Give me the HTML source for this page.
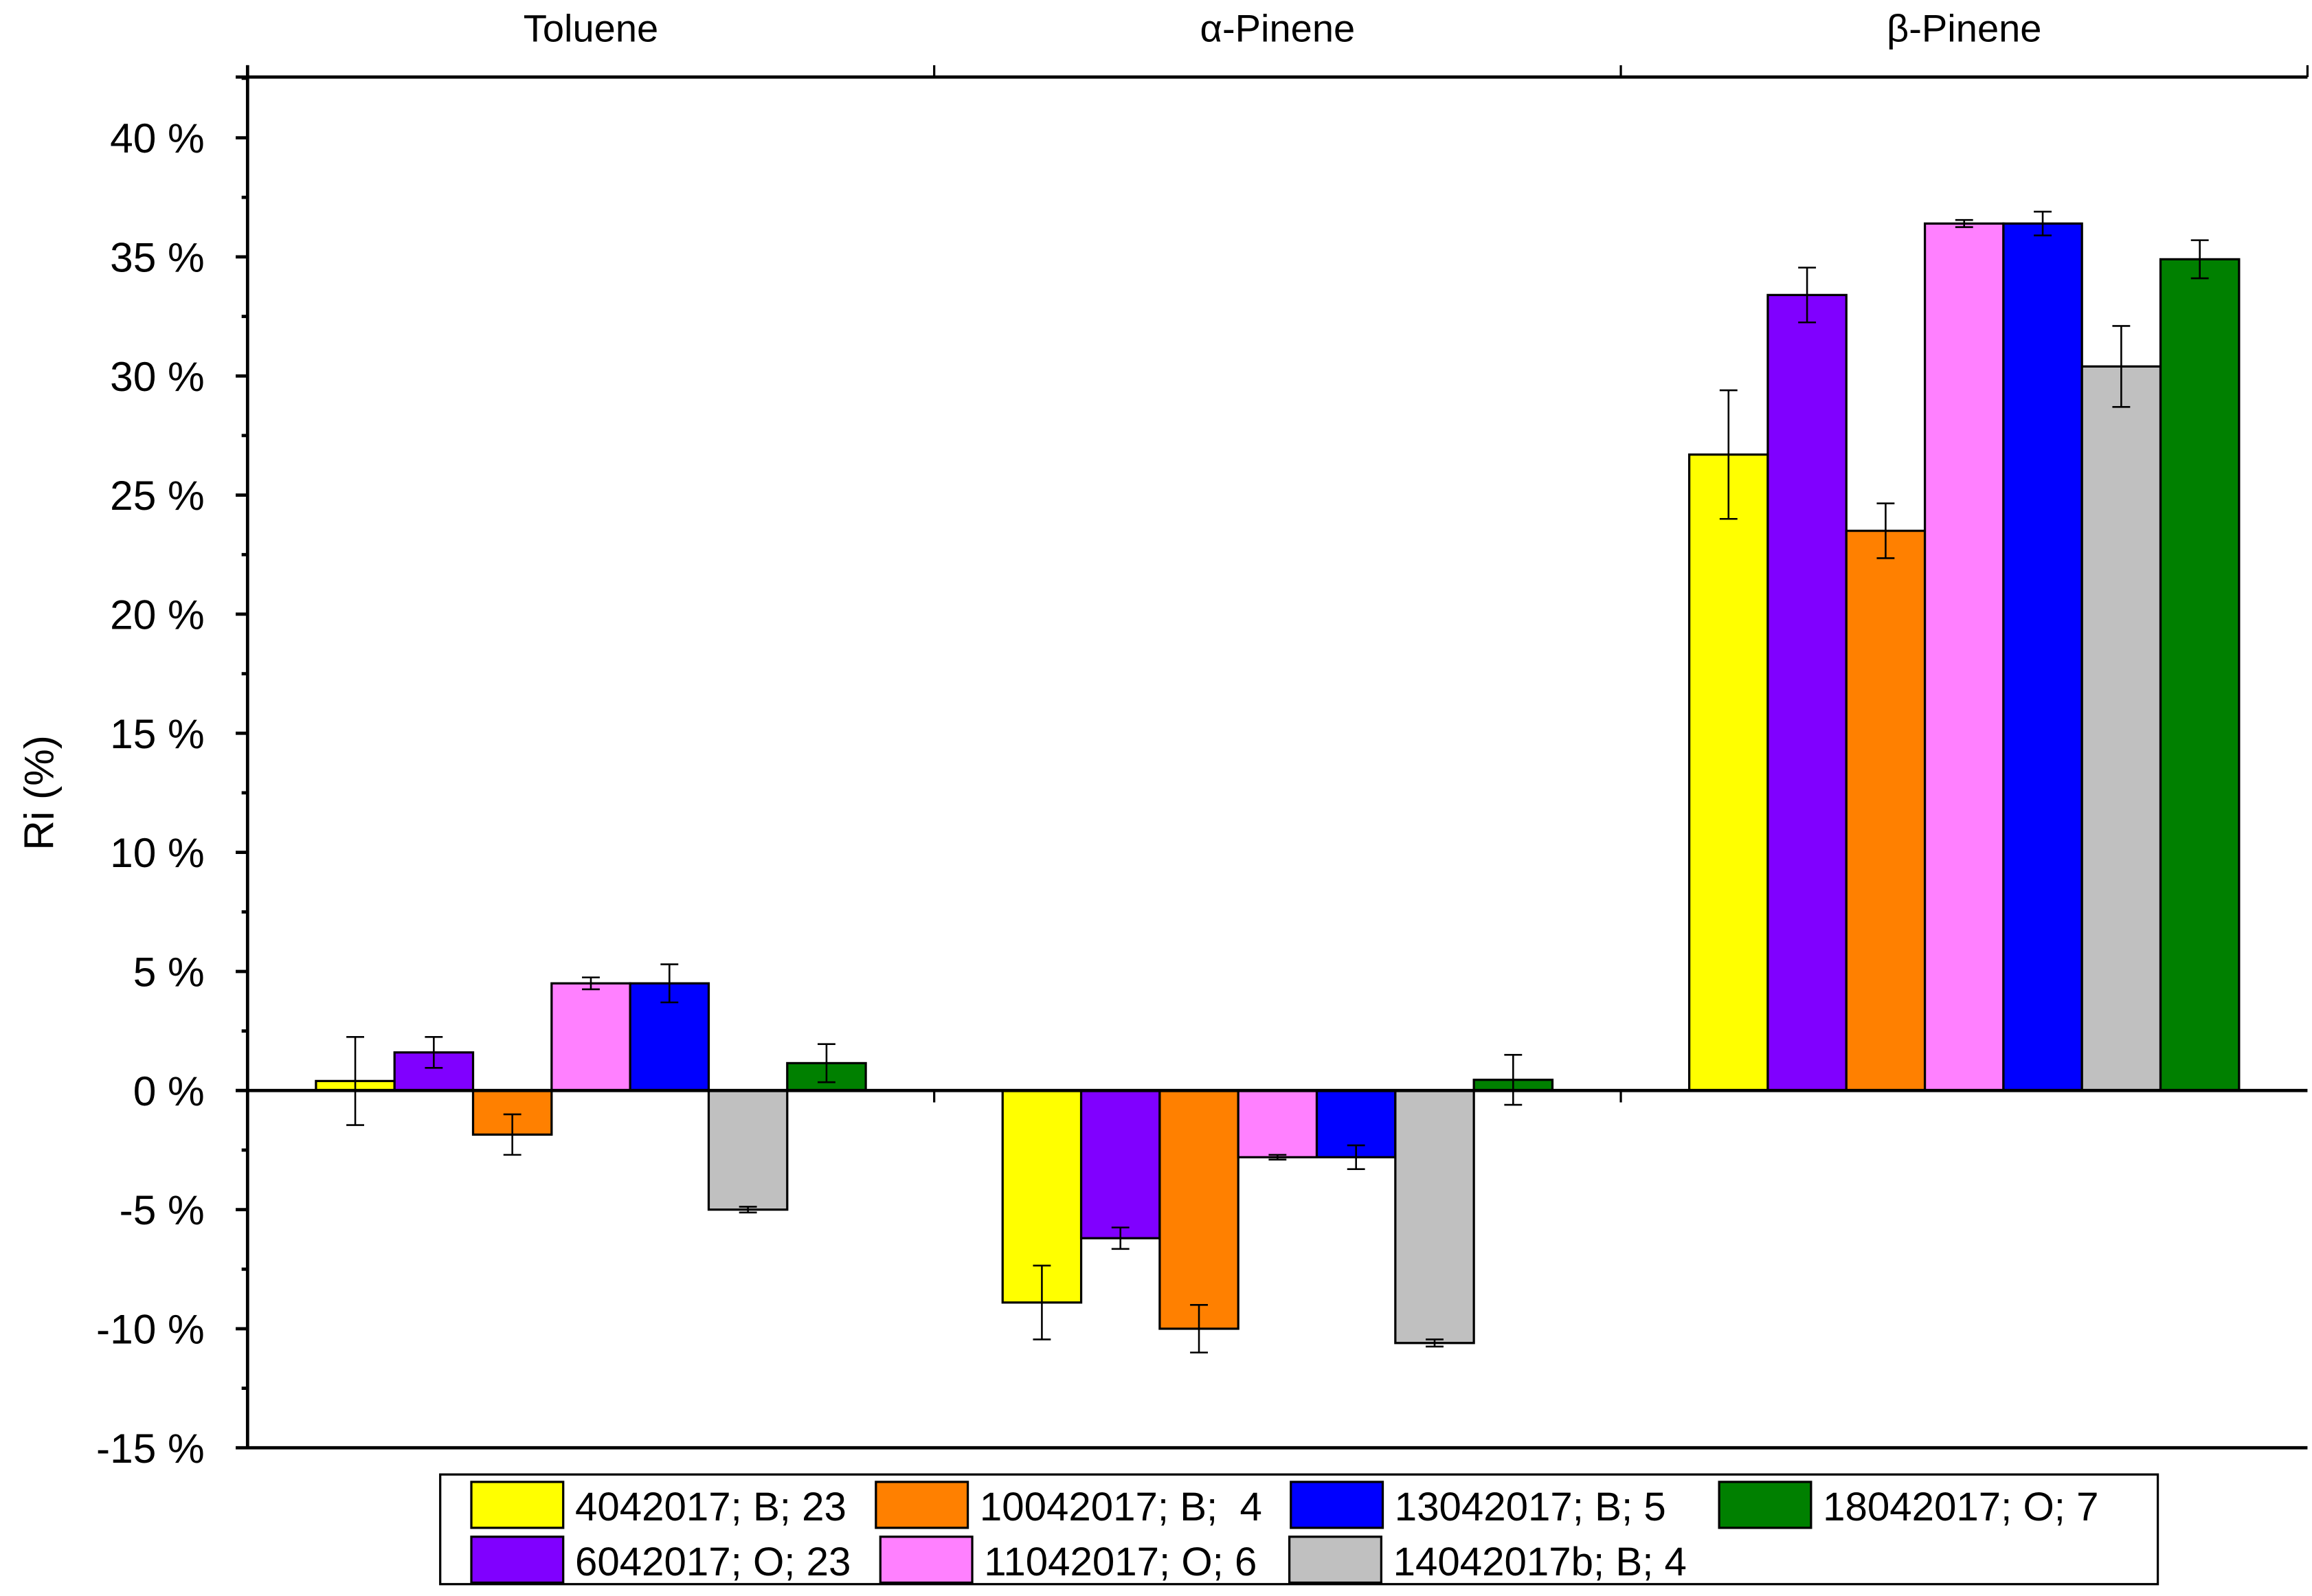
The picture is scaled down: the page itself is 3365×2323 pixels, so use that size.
<!DOCTYPE html>
<html><head><meta charset="utf-8"><style>
html,body{margin:0;padding:0;background:#fff}
svg{display:block}
text{font-family:"Liberation Sans",sans-serif;fill:#000}
</style></head><body>
<svg id="chart" width="3365" height="2323" viewBox="0 0 1560 1077" xmlns="http://www.w3.org/2000/svg">
<g id="plot"></g>
</svg>
<script>
const categories = ["Toluene", "\u03b1-Pinene", "\u03b2-Pinene"];
const seriesNames = ["4042017; B; 23","6042017; O; 23","10042017; B;  4","11042017; O; 6","13042017; B; 5","14042017b; B; 4","18042017; O; 7"];
const seriesColors = ["#ffff00","#8000ff","#ff8000","#ff80ff","#0000ff","#c0c0c0","#008000"];
const values = [
  [0.4, -8.9, 26.7],
  [1.6, -6.2, 33.4],
  [-1.85, -10.0, 23.5],
  [4.5, -2.8, 36.4],
  [4.5, -2.8, 36.4],
  [-5.0, -10.6, 30.4],
  [1.15, 0.45, 34.9]
];
const errors = [
  [1.85, 1.55, 2.7],
  [0.65, 0.45, 1.15],
  [0.85, 1.0, 1.15],
  [0.25, 0.1, 0.15],
  [0.8, 0.5, 0.5],
  [0.12, 0.15, 1.7],
  [0.8, 1.05, 0.8]
];
const yTicks = [-15,-10,-5,0,5,10,15,20,25,30,35,40];
const yTickLabels = ["-15 %","-10 %","-5 %","0 %","5 %","10 %","15 %","20 %","25 %","30 %","35 %","40 %"];
const legendOrder = [0,2,4,6,1,3,5];

const NS="http://www.w3.org/2000/svg";
const g=document.getElementById('plot');
const L=167,R=1557,T=52,B=977,yMin=-15,yMax=42.55;
const y=v=>B-(v-yMin)/(yMax-yMin)*(B-T);
const groupW=(R-L)/categories.length;
const barW=53;
const xc=i=>L+groupW*(i+0.5);
function mk(tag,attrs,parent){const e=document.createElementNS(NS,tag);for(const k in attrs)e.setAttribute(k,attrs[k]);(parent||g).appendChild(e);return e;}

values.forEach((ser,s)=>{
  ser.forEach((v,c)=>{
    const x0=xc(c)-barW*seriesNames.length/2+s*barW;
    const r=mk('rect',{x:x0,y:Math.min(y(v),y(0)),width:barW,height:Math.abs(y(v)-y(0)),fill:seriesColors[s],stroke:'#000','stroke-width':1.5});
    
    
    const cx=x0+barW/2,e=errors[s][c];
    const eg=mk('g',{stroke:'#000','stroke-width':1.2});
    
    
    mk('line',{x1:cx,x2:cx,y1:y(v+e),y2:y(v-e)},eg);
    mk('line',{x1:cx-6,x2:cx+6,y1:y(v+e),y2:y(v+e)},eg);
    mk('line',{x1:cx-6,x2:cx+6,y1:y(v-e),y2:y(v-e)},eg);
  });
});
const ax=mk('g',{stroke:'#000','stroke-width':2.2,fill:'none'});


mk('line',{x1:L,x2:L,y1:T-8,y2:B+1},ax);
mk('line',{x1:L,x2:R,y1:B,y2:B},ax);
mk('line',{x1:L-8,x2:R,y1:T,y2:T},ax);
mk('line',{x1:L-8,x2:R,y1:y(0),y2:y(0)},ax);
for(let i=0;i<=categories.length;i++){
  const x=L+groupW*i;
  mk('line',{x1:x,x2:x,y1:T,y2:T-8,'stroke-width':1.5},ax);
  if(i>0&&i<categories.length) mk('line',{x1:x,x2:x,y1:y(0),y2:y(0)+8,'stroke-width':1.5},ax);
}
yTicks.forEach((t,i)=>{
  mk('line',{x1:L-8,x2:L,y1:y(t),y2:y(t)},ax);
  if(t+2.5<yMax) mk('line',{x1:L-4,x2:L,y1:y(t+2.5),y2:y(t+2.5)},ax);
  const tx=mk('text',{x:138,y:y(t)+10,'text-anchor':'end','font-size':28});
  tx.textContent=yTickLabels[i];
  tx.setAttribute('xml:space','preserve');
  
  
});
categories.forEach((c,i)=>{
  const t=mk('text',{x:xc(i),y:28,'text-anchor':'middle','font-size':26});
  t.textContent=c;
  
  
});
const yt=mk('text',{x:36,y:535,'text-anchor':'middle','font-size':28,transform:'rotate(-90 36 535)'});
yt.textContent='Ri (%)';


const lg=mk('g',{});


mk('rect',{x:297,y:995,width:1159,height:74,fill:'#fff',stroke:'#000','stroke-width':1.5},lg);
const colX=[[318,591,871,1160],[318,594,870]];
legendOrder.forEach((s,k)=>{
  const row=k<4?0:1,col=row?k-4:k;
  const sx=colX[row][col],sy=row?1037:1000;
  const eg=mk('g',{},lg);
  
  
  mk('rect',{x:sx,y:sy,width:62,height:31,fill:seriesColors[s],stroke:'#000','stroke-width':1.5},eg);
  const t=mk('text',{x:sx+70,y:sy+26,'font-size':27},eg);
  t.textContent=seriesNames[s];
  t.setAttribute('xml:space','preserve');
  t.style.whiteSpace='pre';
});
</script>
</body></html>
